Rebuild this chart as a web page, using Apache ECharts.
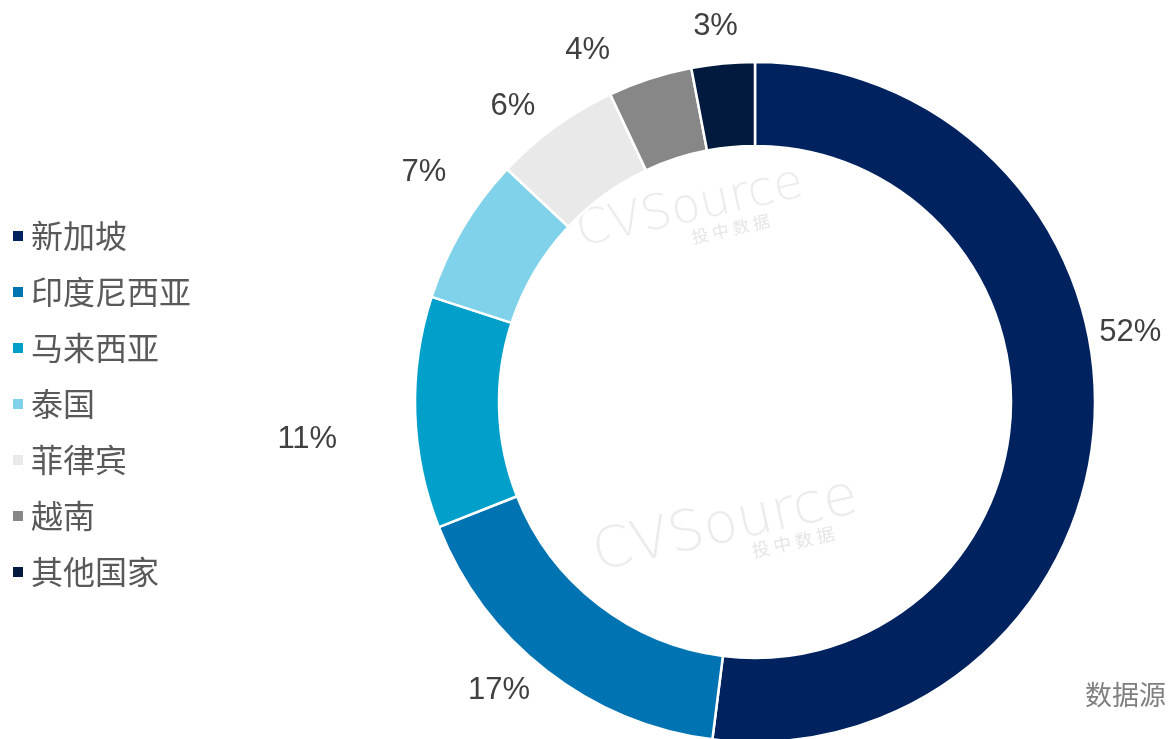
<!DOCTYPE html>
<html>
<head>
<meta charset="utf-8">
<script src="https://cdn.jsdelivr.net/npm/echarts@6/dist/echarts.min.js"></script>
<style>
  html, body { margin: 0; padding: 0; background: #fff; }
  #chart { width: 1169px; height: 739px; }
</style>
</head>
<body>
<div id="chart"></div>
<script>
// 各国占比 (%)
const countries = ['新加坡', '印度尼西亚', '马来西亚', '泰国', '菲律宾', '越南', '其他国家'];
const shares = [52, 17, 11, 7, 6, 4, 3];
const colors = ['#002360', '#0074B2', '#00A0CA', '#80D1EA', '#E9E9E9', '#878787', '#021A3D'];

// label nudges (px), labels were hand-placed in the original
const labelOffsets = [[-26, -92], [6, 2], [-47, 26], [12, -45], [2, -3], [-24, -7], [26, -15]];

const chart = echarts.init(document.getElementById('chart'));

const data = countries.map((name, i) => ({
  name: name,
  value: shares[i],
  itemStyle: { color: colors[i] },
  label: { offset: labelOffsets[i] }
}));

const option = {
  animation: false,
  legend: {
    orient: 'vertical',
    left: 8,
    top: 215,
    icon: 'rect',
    itemWidth: 10,
    itemHeight: 10,
    itemGap: 24,
    itemStyle: { borderWidth: 0 },
    textStyle: {
      fontFamily: 'Noto Sans CJK SC',
      fontSize: 32,
      lineHeight: 32,
      color: '#595959',
      padding: [0, 0, 0, 3]
    },
    data: countries
  },
  graphic: [
    {
      type: 'text', left: 572, top: 160, rotation: 0.22, z: -1,
      style: { text: 'CVSource', fontSize: 48, fontFamily: 'DejaVu Sans', fontWeight: 200, fill: '#ECECEC' }
    },
    {
      type: 'text', left: 690, top: 212, rotation: 0.22, z: -1,
      style: { text: '投 中 数 据', fontSize: 17, fontFamily: 'Noto Sans CJK SC', fill: '#E6E6E6' }
    },
    {
      type: 'text', left: 588, top: 470, rotation: 0.22, z: -1,
      style: { text: 'CVSource', fontSize: 56, fontFamily: 'DejaVu Sans', fontWeight: 200, fill: '#ECECEC' }
    },
    {
      type: 'text', left: 750, top: 524, rotation: 0.22, z: -1,
      style: { text: '投 中 数 据', fontSize: 18, fontFamily: 'Noto Sans CJK SC', fill: '#E6E6E6' }
    },
    {
      type: 'text', left: 1085, top: 681,
      style: { text: '数据源：CVSource', fontSize: 27, fontFamily: 'Noto Sans CJK SC', fill: '#7F7F7F' }
    }
  ],
  series: [
    {
      type: 'pie',
      center: [755, 402],
      radius: [256, 340],
      startAngle: 90,
      clockwise: true,
      avoidLabelOverlap: false,
      itemStyle: { borderColor: '#fff', borderWidth: 2.5 },
      label: {
        show: true,
        position: 'outside',
        formatter: '{c}%',
        fontFamily: 'Liberation Sans',
        fontSize: 31,
        color: '#404040'
      },
      labelLine: { show: false, length: 22, length2: 4 },
      emphasis: { disabled: true },
      data: data
    }
  ]
};

chart.setOption(option);
</script>
</body>
</html>
